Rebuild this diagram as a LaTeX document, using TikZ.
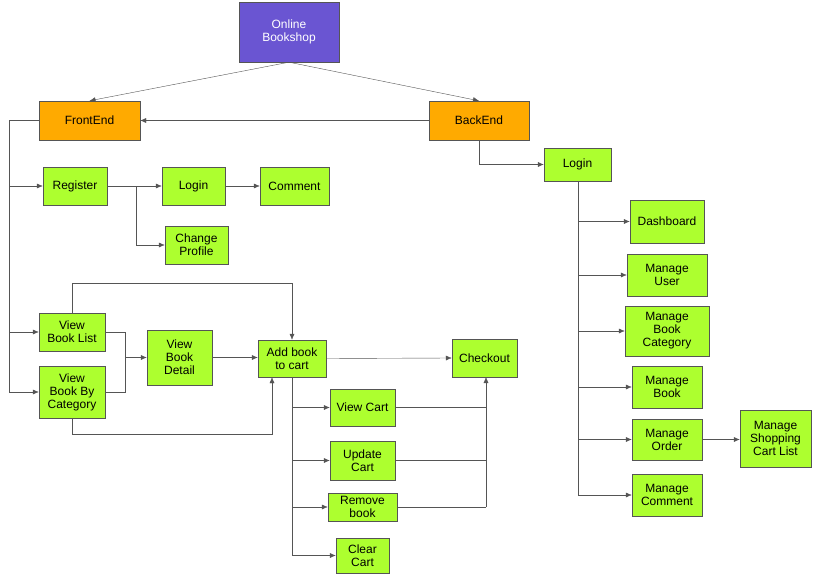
\documentclass[tikz,border=0pt]{standalone}
\usepackage{fontspec}
\setmainfont{Liberation Sans}
\usetikzlibrary{arrows.meta,positioning}
\definecolor{boxgreen}{HTML}{ADFF2F}
\definecolor{boxorange}{HTML}{FFAA00}
\definecolor{boxpurple}{HTML}{6A55D2}
\definecolor{linegray}{HTML}{555555}

\begin{document}
\begin{tikzpicture}[x=1pt, y=-1pt]
    % Define styles
    \tikzset{
      box/.style={rectangle, draw=linegray, fill=boxgreen, align=center, inner sep=1pt,
        font=\fontsize{12}{13}\selectfont},
      top/.style={box, fill=boxorange},
      root/.style={box, fill=boxpurple, text=white},
      arrow/.style={-{Latex[length=6pt,width=5pt]}, draw=linegray},
      line/.style={draw=linegray}
    }
    \useasboundingbox (0,0) rectangle (814,575);

    % Top levels
    \node[root, minimum width=100, minimum height=60] (shop) at (289,32) {Online\\Bookshop};
    \node[top, minimum width=101, minimum height=39] (front) at (89.5,120.5) {FrontEnd};
    \node[top, minimum width=100, minimum height=39] (back) at (479,120.5) {BackEnd};

    % Front end
    \node[box, minimum width=64, minimum height=38] (reg) at (75,186) {Register};
    \node[box, minimum width=63, minimum height=38] (flogin) at (193.5,186) {Login};
    \node[box, minimum width=69, minimum height=38] (comment) at (294.5,186) {Comment};
    \node[box, minimum width=63, minimum height=38] (profile) at (196.5,245) {Change\\Profile};
    \node[box, minimum width=66, minimum height=38] (list) at (72,332) {View\\Book List};
    \node[box, minimum width=66, minimum height=52] (bycat) at (72,392) {View\\Book By\\Category};
    \node[box, minimum width=65, minimum height=55] (detail) at (179.5,357.5) {View\\Book\\Detail};
    \node[box, minimum width=68, minimum height=37] (add) at (292,358.5) {Add book\\to cart};
    \node[box, minimum width=65, minimum height=38] (checkout) at (484.5,358) {Checkout};
    \node[box, minimum width=65, minimum height=37] (view) at (362.5,407.5) {View Cart};
    \node[box, minimum width=65, minimum height=39] (update) at (362.5,460.5) {Update\\Cart};
    \node[box, minimum width=69, minimum height=28] (remove) at (362.5,507) {Remove\\book};
    \node[box, minimum width=53, minimum height=35] (clear) at (362.5,555.5) {Clear\\Cart};

    % Back end
    \node[box, minimum width=67, minimum height=33] (blogin) at (577.5,164.5) {Login};
    \node[box, minimum width=74, minimum height=43] (dash) at (667,221.5) {Dashboard};
    \node[box, minimum width=80, minimum height=42] (user) at (667,275) {Manage\\User};
    \node[box, minimum width=84, minimum height=50] (bcat) at (667,331) {Manage\\Book\\Category};
    \node[box, minimum width=70, minimum height=42] (book) at (667,387) {Manage\\Book};
    \node[box, minimum width=70, minimum height=41] (order) at (667,439.5) {Manage\\Order};
    \node[box, minimum width=71, minimum height=57] (scart) at (775.5,438.5) {Manage\\Shopping\\Cart List};
    \node[box, minimum width=70, minimum height=42] (mcomment) at (667,495) {Manage\\Comment};

    % Root connectors
    \draw[arrow] (shop.south) -- (front.north);
    \draw[arrow] (shop.south) -- (back.north);
    \draw[arrow] (back.west) -- (front.east);

    % Front end connectors
    \draw[line] (front.west) -- (9,120.5) -- (9,392);
    \draw[arrow] (9,186) -- (reg.west);
    \draw[arrow] (9,332) -- (list.west);
    \draw[arrow] (9,392) -- (bycat.west);
    \draw[arrow] (reg.east) -- (flogin.west);
    \draw[arrow] (136,186) |- (profile.west);
    \draw[arrow] (flogin.east) -- (comment.west);
    \draw[line] (list.east) -| (125,392) -- (bycat.east);
    \draw[arrow] (125,357.5) -- (detail.west);
    \draw[arrow] (list.north) -- ++(0,-30) -| (add.north);
    \draw[arrow] (bycat.south) -- ++(0,16) -| ([xshift=-20pt]add.south);
    \draw[arrow] (detail.east) -- (add.west |- detail.east);
    \draw[arrow] (add.east) -- (checkout.west);
    \draw[line] (add.south) -- (292,555.5);
    \foreach \n in {view,update,remove,clear}
      \draw[arrow] (292,0 |- \n.west) -- (\n.west);
    \draw[line] (view.east) -- (486,407.5);
    \draw[line] (update.east) -- (486,460.5);
    \draw[line] (remove.east) -- (486,507);
    \draw[arrow] (486,507) -- (486,377);

    % Back end connectors
    \draw[arrow] (back.south) |- (blogin.west);
    \draw[line] (578,181) -- (578,495);
    \foreach \n in {dash,user,bcat,book,order,mcomment}
      \draw[arrow] (578,0 |- \n.west) -- (\n.west);
    \draw[arrow] (order.east) -- (scart.west |- order.east);
\end{tikzpicture}
\end{document}
